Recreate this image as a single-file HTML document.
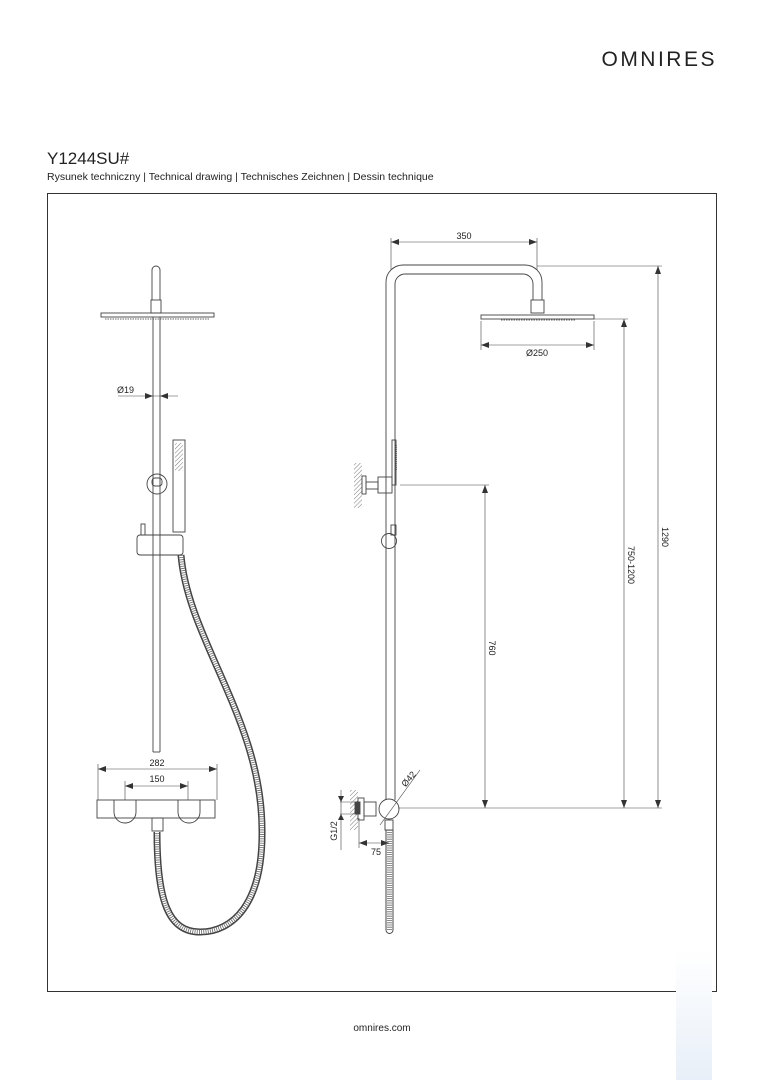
<!DOCTYPE html>
<html><head><meta charset="utf-8"><style>
html,body{margin:0;padding:0;background:#fff}
body{width:764px;height:1080px;overflow:hidden;position:relative;font-family:"Liberation Sans",sans-serif;color:#222}
</style></head><body>
<svg width="764" height="1080" viewBox="0 0 764 1080" xmlns="http://www.w3.org/2000/svg" style="position:absolute;left:0;top:0">
<defs>
<marker id="a" markerWidth="8" markerHeight="6" refX="8" refY="3" orient="auto-start-reverse" markerUnits="userSpaceOnUse"><path d="M0,0 L8,3 L0,6z" fill="#333"/></marker>
<pattern id="h" width="3" height="3" patternUnits="userSpaceOnUse" patternTransform="rotate(45)"><line x1="0" y1="0" x2="0" y2="3" stroke="#555" stroke-width="0.8"/></pattern>
<linearGradient id="wm" x1="0" y1="0" x2="0" y2="1"><stop offset="0" stop-color="#fff"/><stop offset="1" stop-color="#e8eff8"/></linearGradient>
</defs>
<text x="717" y="66" text-anchor="end" font-family="Liberation Sans" font-size="21" letter-spacing="2.5" fill="#222">OMNIRES</text>
<text x="47" y="164" font-size="17" fill="#222">Y1244SU#</text>
<text x="47" y="180" font-size="10.5" fill="#222">Rysunek techniczny | Technical drawing | Technisches Zeichnen | Dessin technique</text>
<rect x="47.5" y="193.5" width="669" height="798" fill="none" stroke="#333" stroke-width="1"/>
<text x="382" y="1031" text-anchor="middle" font-size="10" fill="#222">omnires.com</text>
<rect x="676" y="950" width="36" height="130" fill="url(#wm)"/>

<g fill="none" stroke="#444" stroke-width="0.9">
<path d="M152,300 V270 a4,4 0 0 1 8,0 V300"/>
<rect x="151" y="300" width="10" height="13"/>
<rect x="101" y="313" width="113" height="4"/>
<line x1="105" y1="319" x2="210" y2="319" stroke-dasharray="1.5 1" stroke="#666"/>
<line x1="153" y1="317" x2="153" y2="752"/><line x1="160" y1="317" x2="160" y2="752"/>
<line x1="118" y1="396" x2="178" y2="396" stroke-width="0.6"/>
<path d="M145,393 L153,396 L145,399z M168,393 L160,396 L168,399z" fill="#333" stroke="none"/>
<rect x="173" y="440" width="12" height="92"/>
<rect x="175" y="443" width="8" height="28" fill="url(#h)" stroke="none"/>
<ellipse cx="157" cy="484" rx="10" ry="10"/>
<rect x="152" y="478" width="10" height="8" rx="3"/>
<rect x="137" y="535" width="46" height="20" rx="3"/>
<rect x="141" y="524" width="4" height="11"/>
<line x1="153" y1="752" x2="160" y2="752"/>
<path d="M181,555 C188,640 262,720 262,830 C263,905 232,932 200,932 C168,932 157,900 157,832" stroke="#444" stroke-width="7"/>
<path d="M181,555 C188,640 262,720 262,830 C263,905 232,932 200,932 C168,932 157,900 157,832" stroke="#fff" stroke-width="4"/>
<path d="M181,555 C188,640 262,720 262,830 C263,905 232,932 200,932 C168,932 157,900 157,832" stroke="#666" stroke-width="4" stroke-dasharray="0.8 1.4"/>
<rect x="97" y="800" width="118" height="18"/>
<path d="M114,800 V812 a11,11 0 0 0 22,0 V800"/>
<path d="M178,800 V812 a11,11 0 0 0 22,0 V800"/>
<rect x="152" y="818" width="11" height="13"/>
<line x1="98" y1="769" x2="217" y2="769" stroke-width="0.6" marker-start="url(#a)" marker-end="url(#a)"/>
<line x1="98" y1="764" x2="98" y2="800" stroke-width="0.6"/><line x1="217" y1="764" x2="217" y2="800" stroke-width="0.6"/>
<line x1="125" y1="786" x2="188" y2="786" stroke-width="0.6" marker-start="url(#a)" marker-end="url(#a)"/>
<line x1="125" y1="781" x2="125" y2="800" stroke-width="0.6"/><line x1="188" y1="781" x2="188" y2="800" stroke-width="0.6"/>

<path d="M386,800 V282 a17,17 0 0 1 17,-17 H525 a17,17 0 0 1 17,17 V300"/>
<path d="M395,800 V284 a10,10 0 0 1 10,-10 H523 a10,10 0 0 1 10,10 V300"/>
<rect x="531" y="300" width="13" height="13"/>
<rect x="481" y="315" width="113" height="4"/>
<line x1="501" y1="320" x2="575" y2="320" stroke-dasharray="1.5 1" stroke="#666"/>
<line x1="391" y1="242" x2="537" y2="242" stroke-width="0.6" marker-start="url(#a)" marker-end="url(#a)"/>
<line x1="391" y1="238" x2="391" y2="270" stroke-width="0.6"/><line x1="537" y1="238" x2="537" y2="270" stroke-width="0.6"/>
<line x1="537" y1="266" x2="662" y2="266" stroke-width="0.6"/>
<line x1="658" y1="266" x2="658" y2="808" stroke-width="0.6" marker-start="url(#a)" marker-end="url(#a)"/>
<line x1="594" y1="319" x2="628" y2="319" stroke-width="0.6"/>
<line x1="624" y1="319" x2="624" y2="808" stroke-width="0.6" marker-start="url(#a)" marker-end="url(#a)"/>
<line x1="481" y1="321" x2="481" y2="350" stroke-width="0.6"/><line x1="594" y1="321" x2="594" y2="350" stroke-width="0.6"/>
<line x1="481" y1="345" x2="594" y2="345" stroke-width="0.6" marker-start="url(#a)" marker-end="url(#a)"/>
<line x1="400" y1="485" x2="489" y2="485" stroke-width="0.6"/>
<line x1="485" y1="485" x2="485" y2="808" stroke-width="0.6" marker-start="url(#a)" marker-end="url(#a)"/>
<line x1="398" y1="808" x2="662" y2="808" stroke-width="0.6"/>
<rect x="392" y="440" width="4" height="45"/>
<line x1="396" y1="445" x2="396" y2="470" stroke-dasharray="1 1" stroke-width="1.5"/>
<rect x="354" y="463" width="8" height="45" fill="url(#h)" stroke="none"/>
<rect x="362" y="476" width="4" height="18"/>
<rect x="366" y="482" width="12" height="7"/>
<rect x="378" y="477" width="14" height="16"/>
<rect x="391" y="525" width="5" height="10"/>
<circle cx="389" cy="541" r="7.5"/>
<rect x="350" y="790" width="8" height="40" fill="url(#h)" stroke="none"/>
<rect x="355" y="802" width="5" height="12" fill="#444"/>
<rect x="358" y="798" width="6" height="22"/>
<rect x="364" y="802" width="12" height="14"/>
<circle cx="389" cy="809" r="10"/>
<line x1="340" y1="802" x2="358" y2="802" stroke-width="0.6"/><line x1="340" y1="814" x2="358" y2="814" stroke-width="0.6"/>
<line x1="341" y1="790" x2="341" y2="850" stroke-width="0.6"/>
<path d="M338,796 L341,802 L344,796z M338,820 L341,814 L344,820z" fill="#333" stroke="none"/>
<line x1="359" y1="818" x2="359" y2="848" stroke-width="0.6"/>
<line x1="359" y1="843" x2="389" y2="843" stroke-width="0.6" marker-start="url(#a)" marker-end="url(#a)"/>
<line x1="380" y1="825" x2="420" y2="770" stroke-width="0.6"/>
<rect x="385" y="820" width="8" height="10"/>
<line x1="386" y1="830" x2="386" y2="930" stroke-width="1"/>
<line x1="393" y1="830" x2="393" y2="930" stroke-width="1"/>
<line x1="389.5" y1="830" x2="389.5" y2="930" stroke="#666" stroke-width="5" stroke-dasharray="0.8 1.4"/>
<path d="M386,930 a3.5,3.5 0 0 0 7,0"/>
</g>
<g font-size="9" fill="#222" font-family="Liberation Sans">
<text x="117" y="393">Ø19</text>
<text x="157" y="766" text-anchor="middle">282</text>
<text x="157" y="782" text-anchor="middle">150</text>
<text x="464" y="239" text-anchor="middle">350</text>
<text x="537" y="356" text-anchor="middle">Ø250</text>
<text x="376" y="855" text-anchor="middle">75</text>
<text transform="translate(662,537) rotate(90)" text-anchor="middle">1290</text>
<text transform="translate(628,565) rotate(90)" text-anchor="middle">750-1200</text>
<text transform="translate(489,648) rotate(90)" text-anchor="middle">760</text>
<text transform="translate(337,831) rotate(-90)" text-anchor="middle">G1/2</text>
<text transform="translate(411,781) rotate(-50)" text-anchor="middle">Ø42</text>
</g>
</svg>
</body></html>
